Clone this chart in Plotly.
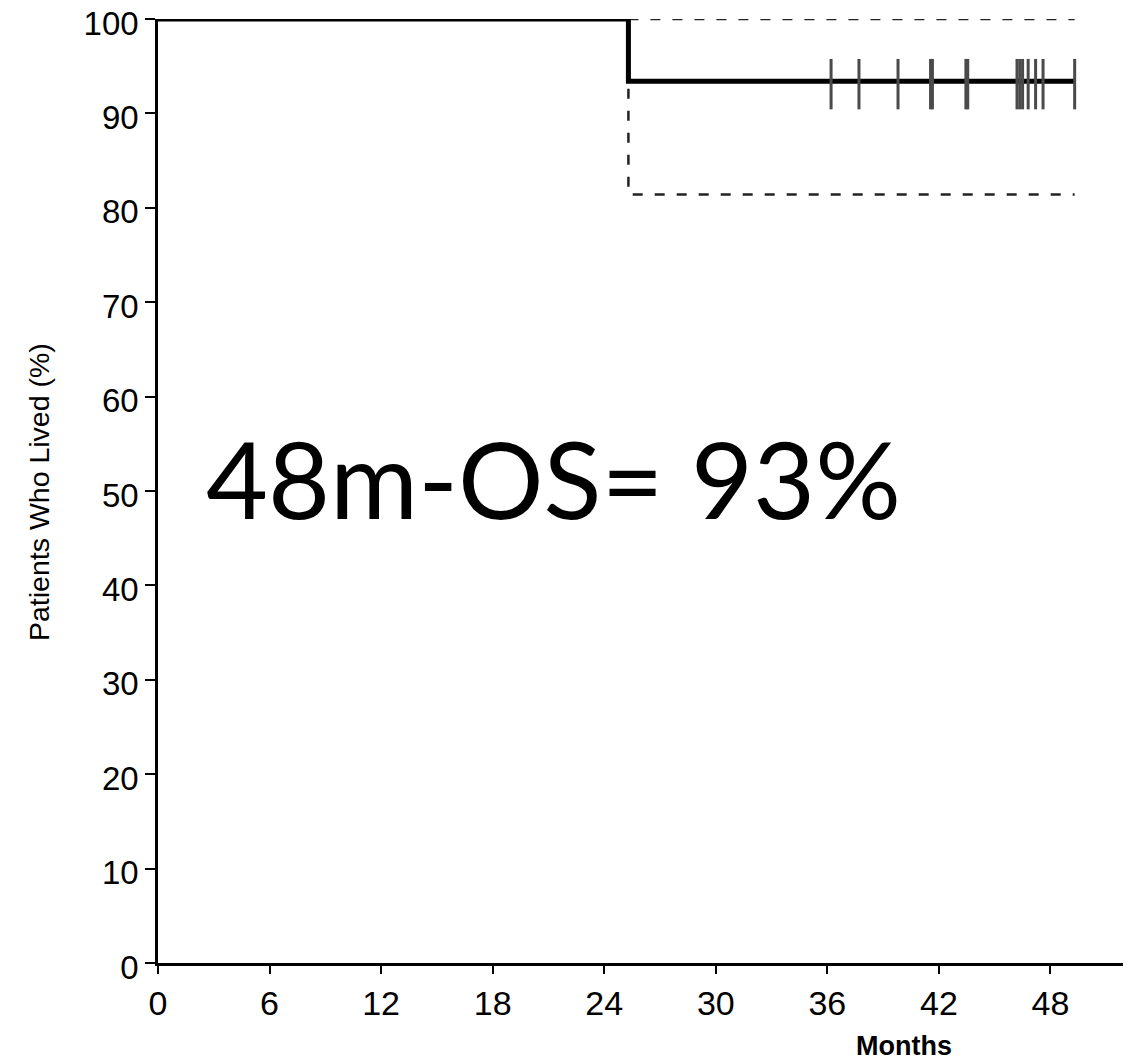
import plotly.graph_objects as go

# Kaplan-Meier overall survival data (months, %)
km_time = [0, 25.3, 25.3, 49.3]
km_surv = [100, 100, 93.4, 93.4]

ci_upper_time = [25.3, 49.3]
ci_upper_val = [100, 100]

ci_lower_time = [25.3, 25.3, 49.3]
ci_lower_val = [92.6, 81.4, 81.4]

censor_time = [36.2, 37.7, 39.8, 41.55, 41.65, 43.45, 43.55, 46.2, 46.35, 46.5, 46.8, 47.2, 47.6, 49.3]
censor_surv = [93.1] * len(censor_time)

x_ticks = [0, 6, 12, 18, 24, 30, 36, 42, 48]
y_ticks = [0, 10, 20, 30, 40, 50, 60, 70, 80, 90, 100]

fig = go.Figure()

fig.add_trace(go.Scatter(x=ci_upper_time, y=ci_upper_val, mode="lines",
                         line=dict(color="#222", width=2.5, dash="10px,12px"),
                         cliponaxis=False, showlegend=False, hoverinfo="skip"))
fig.add_trace(go.Scatter(x=ci_lower_time, y=ci_lower_val, mode="lines",
                         line=dict(color="#222", width=2.5, dash="10px,12px"),
                         cliponaxis=False, showlegend=False, hoverinfo="skip"))
fig.add_trace(go.Scatter(x=km_time, y=km_surv, mode="lines",
                         line=dict(color="black", width=5),
                         cliponaxis=False, showlegend=False))
fig.add_trace(go.Scatter(x=censor_time, y=censor_surv, mode="markers",
                         marker=dict(symbol="line-ns", size=36,
                                     line=dict(color="#4a4a4a", width=3)),
                         cliponaxis=False, showlegend=False))

fig.add_annotation(text="48m-OS= 93%", x=2.45, xref="x", y=51.4, yref="y",
                   xanchor="left", yanchor="middle", showarrow=False,
                   font=dict(family="Lato, Open Sans, sans-serif", size=107, color="black"))

fig.add_annotation(text="Months", xref="paper", yref="paper", x=(904 - 158) / 965, y=-(1046 - 963) / 944,
                   xanchor="center", yanchor="middle", showarrow=False,
                   font=dict(family="Liberation Sans, Arial", size=27, color="black", weight="bold"))

fig.add_annotation(text="Patients Who Lived (%)", xref="paper", yref="paper",
                   x=-(158 - 39) / 965, y=(963 - 492) / 944, textangle=-90,
                   xanchor="center", yanchor="middle", showarrow=False,
                   font=dict(family="Liberation Sans, Arial", size=28.5, color="black"))

fig.update_xaxes(range=[0, 51.9], tickvals=x_ticks, ticktext=[str(t) for t in x_ticks],
                 automargin=False, ticklabeloverflow="allow",
                 showgrid=False, zeroline=False, showline=True, linecolor="black", linewidth=2.5,
                 ticks="outside", ticklen=8, tickwidth=2, tickcolor="black",
                 tickfont=dict(family="Liberation Sans, Arial", size=34, color="black"))
fig.update_yaxes(range=[0, 100], tickvals=y_ticks, ticktext=[str(t) for t in y_ticks],
                 automargin=False, ticklabeloverflow="allow", ticklabelshift=4,
                 showgrid=False, zeroline=False, showline=True, linecolor="black", linewidth=2.5,
                 ticks="outside", ticklen=10, tickwidth=2, tickcolor="black",
                 tickfont=dict(family="Liberation Sans, Arial", size=33, color="black"))

# page body has an 8px margin, so the figure is shrunk by 8px and margins offset accordingly
fig.update_layout(width=1124, height=1053, plot_bgcolor="white", paper_bgcolor="white",
                  margin=dict(l=150, r=9, t=11, b=98), showlegend=False)

fig.write_html("out.html")
